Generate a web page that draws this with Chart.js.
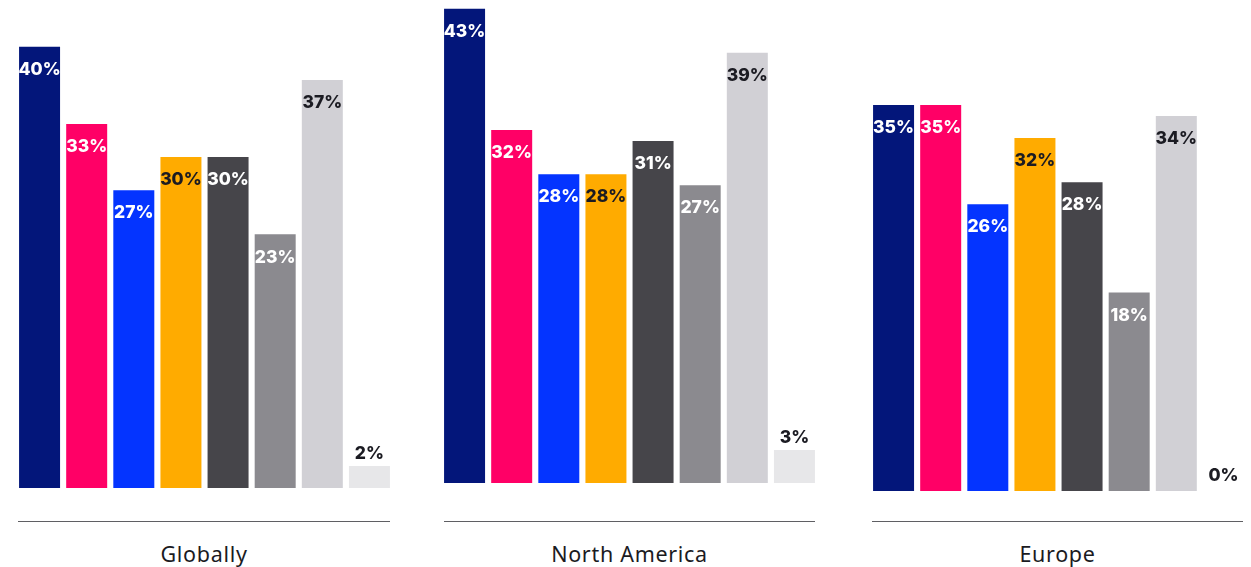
<!DOCTYPE html>
<html>
<head>
<meta charset="utf-8">
<script src="https://cdn.jsdelivr.net/npm/chart.js@4.4.1/dist/chart.umd.min.js"></script>
<style>
  html, body { margin: 0; padding: 0; background: #fff; }
  #wrap { position: relative; width: 1251px; height: 567px; overflow: hidden; }
  .plot { position: absolute; top: 0; width: 377px; }
  .rule { position: absolute; top: 521px; height: 0; border-top: 1.5px solid #5f5f63; }
  .caption {
    position: absolute; top: 539px; width: 400px; text-align: center;
    font-family: "Noto Sans", sans-serif; font-size: 21.5px; color: #1b1b1f;
    letter-spacing: 0.7px;
  }
</style>
</head>
<body>
<div id="wrap"></div>
<script>
const regions = ["Globally", "North America", "Europe"];
const globally = [40, 33, 27, 30, 30, 23, 37, 2];
const northAmerica = [43, 32, 28, 28, 31, 27, 39, 3];
const europe = [35, 35, 26, 32, 28, 18, 34, 0];

const barColors = ["#03167a", "#ff0066", "#0434ff", "#ffab00", "#46454a", "#8b8a8f", "#d1d0d5", "#e7e7e9"];
const labelColors = ["#fff", "#fff", "#fff", "#1b1b22", "#fff", "#fff", "#1b1b22", "#1b1b22"];

// layout for each panel: left edge of plot, baseline y, divider span
const panels = [
  { values: globally, left: 16, base: 488, ruleFrom: 18, ruleTo: 390 },
  { values: northAmerica, left: 441, base: 483, ruleFrom: 444, ruleTo: 815 },
  { values: europe, left: 870, base: 491, ruleFrom: 872, ruleTo: 1243 },
];
const PX_PER_PCT = 11.03;

const valueLabels = {
  id: "valueLabels",
  afterDatasetsDraw(chart) {
    const ctx = chart.ctx;
    const ds = chart.data.datasets[0];
    ctx.save();
    ctx.font = "800 17.5px Inter, sans-serif";
    ctx.textAlign = "center";
    ctx.textBaseline = "middle";
    chart.getDatasetMeta(0).data.forEach((bar, i) => {
      const v = ds.data[i];
      const small = v < 5;
      ctx.fillStyle = small ? "#1b1b22" : labelColors[i];
      const y = small ? bar.y - (v === 0 ? 15 : 12) : bar.y + 23;
      ctx.fillText(v + "%", bar.x, y);
    });
    ctx.restore();
  }
};

const wrap = document.getElementById("wrap");

panels.forEach((p, idx) => {
  const box = document.createElement("div");
  box.className = "plot";
  box.style.left = p.left + "px";
  box.style.height = p.base + "px";
  const canvas = document.createElement("canvas");
  box.appendChild(canvas);
  wrap.appendChild(box);

  const rule = document.createElement("div");
  rule.className = "rule";
  rule.style.left = p.ruleFrom + "px";
  rule.style.width = (p.ruleTo - p.ruleFrom) + "px";
  wrap.appendChild(rule);

  const cap = document.createElement("div");
  cap.className = "caption";
  cap.style.left = ((p.ruleFrom + p.ruleTo) / 2 - 200) + "px";
  cap.textContent = regions[idx];
  wrap.appendChild(cap);

  new Chart(canvas, {
    type: "bar",
    data: {
      labels: p.values.map((_, i) => i),
      datasets: [{
        data: p.values,
        backgroundColor: barColors,
        barPercentage: 0.87,
        categoryPercentage: 1,
      }],
    },
    options: {
      responsive: true,
      maintainAspectRatio: false,
      animation: false,
      layout: { padding: 0 },
      plugins: { legend: { display: false }, tooltip: { enabled: false } },
      scales: {
        x: { display: false },
        y: { display: false, min: 0, max: p.base / PX_PER_PCT },
      },
    },
    plugins: [valueLabels],
  });
});
</script>
</body>
</html>
